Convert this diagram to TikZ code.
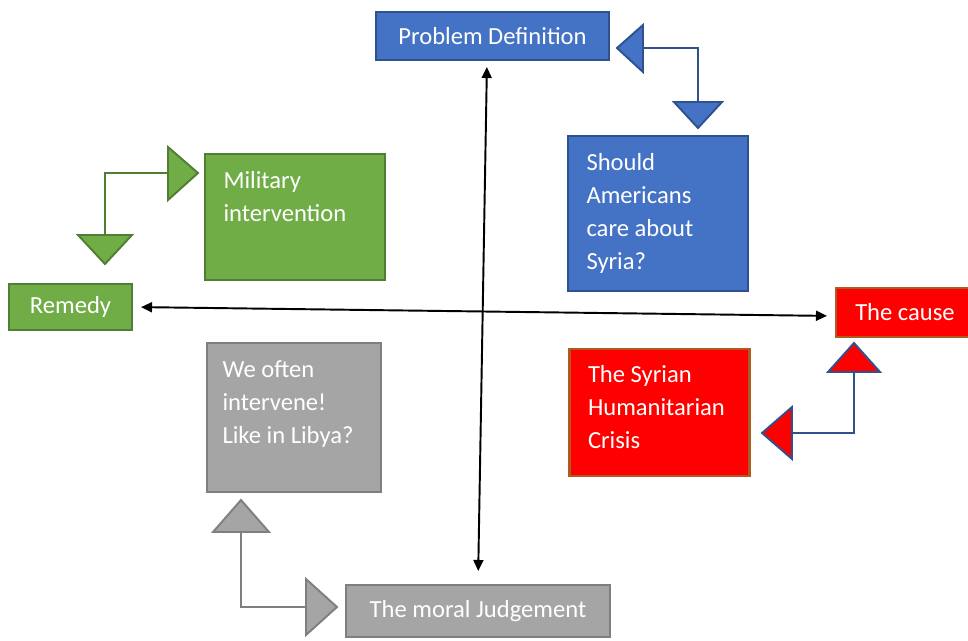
\documentclass[tikz,border=0pt]{standalone}
\usepackage{fontspec}
\setmainfont{Carlito}
\usetikzlibrary{arrows.meta,positioning}
\definecolor{pdblue}{HTML}{4472C4}
\definecolor{pdline}{HTML}{2F528F}
\definecolor{remgreen}{HTML}{70AD47}
\definecolor{remline}{HTML}{507E32}
\definecolor{causered}{HTML}{FF0000}
\definecolor{causeline}{HTML}{AE5A21}
\definecolor{moralgray}{HTML}{A5A5A5}
\definecolor{moralline}{HTML}{7F7F7F}

\begin{document}
\begin{tikzpicture}[x=0.02cm,y=-0.02cm,
    every node/.style={draw,rectangle,line width=1.2pt,text=white,
      font=\fontsize{14}{18.8}\selectfont},
    textbox/.style={align=flush left,text width=2.86cm,inner xsep=0.37cm},
    axis/.style={{Triangle[length=0.22cm,width=0.2cm]}-{Triangle[length=0.22cm,width=0.2cm]},line width=1.1pt},
    bent/.style={line width=1.1pt}]
  \useasboundingbox (0,0) rectangle (968,640);

  \node [fill=pdblue,draw=pdline,minimum width=4.66cm,minimum height=0.96cm]
    (pd) at (492.5,36) {Problem Definition};
  \node [fill=pdblue,draw=pdline,textbox,minimum height=3.1cm]
    (care) at (658,213.5) {Should\\Americans\\care about\\Syria?};
  \node [fill=remgreen,draw=remline,textbox,minimum height=2.52cm]
    (mil) at (295,217) {Military\\intervention\\[0.16cm]\mbox{}};
  \node [fill=remgreen,draw=remline,minimum width=2.46cm,minimum height=0.92cm]
    (remedy) at (70.5,307) {Remedy};
  \node [fill=causered,draw=causeline,minimum width=2.76cm,minimum height=0.98cm]
    (cause) at (905,312.5) {The cause};
  \node [fill=causered,draw=causeline,textbox,minimum height=2.54cm]
    (crisis) at (659.5,412.5) {The Syrian\\Humanitarian\\Crisis\\[-0.44cm]\mbox{}};
  \node [fill=moralgray,draw=moralline,textbox,inner xsep=0.31cm,minimum height=2.98cm]
    (often) at (294,417.5) {We often\\intervene!\\Like in Libya?\\[-0.04cm]\mbox{}};
  \node [fill=moralgray,draw=moralline,minimum width=5.28cm,minimum height=1.04cm]
    (moral) at (478,611) {The moral Judgement};

  \draw [axis,shorten <=0.12cm,shorten >=0.26cm] ([xshift=-0.11cm]pd.south) -- (moral.north);
  \draw [axis,shorten <=0.16cm,shorten >=0.16cm] (remedy.east) -- ([yshift=-0.07cm]cause.west);

  \draw [bent,pdline] (643,48) -| (698,102);
  \filldraw [bent,fill=pdblue,draw=pdline] (617,48) -- (643,25) -- (643,72) -- cycle;
  \filldraw [bent,fill=pdblue,draw=pdline] (674,102) -- (722,102) -- (698,128) -- cycle;

  \draw [bent,remline] (168,173) -| (105,235);
  \filldraw [bent,fill=remgreen,draw=remline] (198,173) -- (168,147) -- (168,200) -- cycle;
  \filldraw [bent,fill=remgreen,draw=remline] (78,235) -- (132,235) -- (105,264) -- cycle;

  \draw [bent,pdline] (854,372) |- (792,433);
  \filldraw [bent,fill=causered,draw=pdline] (854,343) -- (828,372) -- (880,372) -- cycle;
  \filldraw [bent,fill=causered,draw=pdline] (762,433) -- (792,407) -- (792,459) -- cycle;

  \draw [bent,moralline] (241,532) |- (306,607);
  \filldraw [bent,fill=moralgray,draw=moralline] (241,500) -- (213,532) -- (269,532) -- cycle;
  \filldraw [bent,fill=moralgray,draw=moralline] (337,607) -- (306,579) -- (306,635) -- cycle;
\end{tikzpicture}
\end{document}
